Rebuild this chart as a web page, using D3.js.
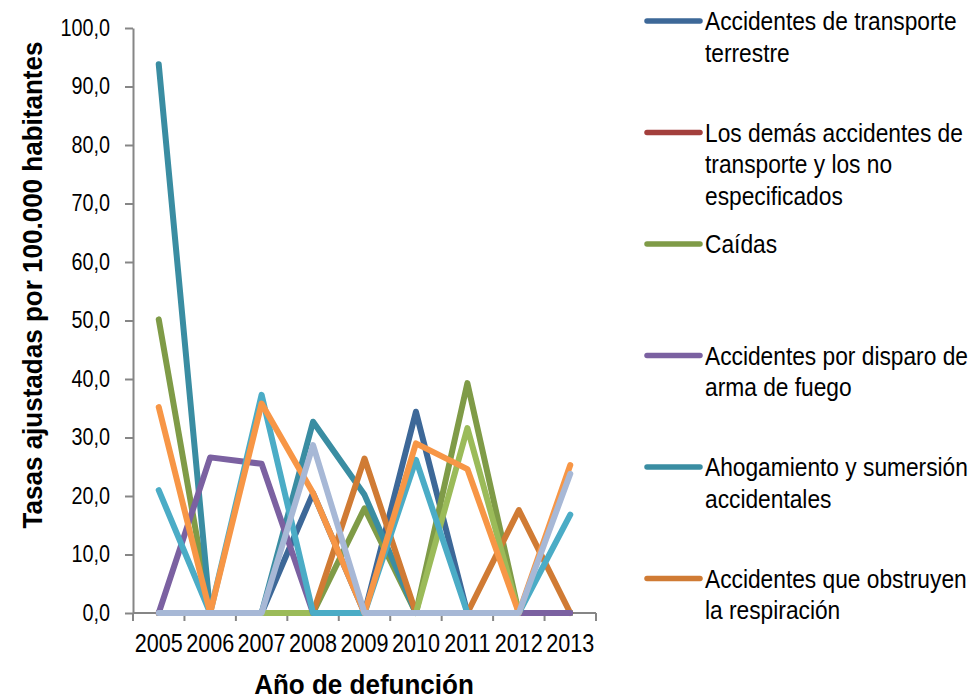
<!DOCTYPE html>
<html>
<head>
<meta charset="utf-8">
<script src="https://cdn.jsdelivr.net/npm/d3@7"></script>
<style>
  html, body { margin: 0; padding: 0; background: #fff; }
  svg { display: block; }
  text { font-family: "Liberation Sans", Arial, sans-serif; fill: #000; }
</style>
</head>
<body>
<svg id="chart" width="973" height="700"></svg>
<script>
// Años de defunción (categorías del eje X)
const years = ["2005", "2006", "2007", "2008", "2009", "2010", "2011", "2012", "2013"];

// Tasas ajustadas por 100.000 habitantes, por causa
const transporteTerrestre = [0, 0, 0, 20.5, 0, 34.4, 0, 0, 0];
const demasTransporte     = [0, 0, 0, 0, 0, 0, 0, 0, 0];
const caidas              = [50.2, 0, 0, 0, 17.9, 0, 39.3, 0, 0];
const disparoArma         = [0, 26.6, 25.5, 0, 0, 0, 0, 0, 0];
const ahogamiento         = [93.8, 0, 0, 32.7, 20.2, 0, 0, 0, 0];
const obstruyenResp       = [0, 0, 0, 0, 26.4, 0, 0, 17.6, 0];
const exposicionFuego     = [21.0, 0, 37.3, 0, 0, 26.2, 0, 0, 16.8];
const envenenamiento      = [35.2, 0, 35.8, 20.5, 0, 29.0, 24.6, 0, 25.3];
const fuerzasNaturaleza   = [0, 0, 0, 0, 0, 0, 31.6, 0, 0];
const otrosAccidentes     = [0, 0, 0, 28.7, 0, 0, 0, 0, 23.8];

// Textos de la leyenda (una entrada por línea de texto)
const legendLabels = [
  ["Accidentes de transporte", "terrestre"],
  ["Los demás accidentes de", "transporte y los no", "especificados"],
  ["Caídas"],
  ["Accidentes por disparo de", "arma de fuego"],
  ["Ahogamiento y sumersión", "accidentales"],
  ["Accidentes que obstruyen", "la respiración"]
];

// Marcas del eje Y
const yTicks = [0, 10, 20, 30, 40, 50, 60, 70, 80, 90, 100];

// Series en orden de dibujo (las últimas quedan encima)
const series = [
  { key: "transporte", values: transporteTerrestre, color: "#3d6898", legend: 0 },
  { key: "demas",      values: demasTransporte,     color: "#a33f3c", legend: 1 },
  { key: "caidas",     values: caidas,              color: "#7f9b47", legend: 2 },
  { key: "ahogamiento",values: ahogamiento,         color: "#3a8da2", legend: 4 },
  { key: "obstruyen",  values: obstruyenResp,       color: "#d07b34", legend: 5 },
  { key: "naturaleza", values: fuerzasNaturaleza,   color: "#9bbb59", legend: -1 },
  { key: "disparo",    values: disparoArma,         color: "#7b61a1", legend: 3 },
  { key: "fuego",      values: exposicionFuego,     color: "#4bacc6", legend: -1 },
  { key: "veneno",     values: envenenamiento,      color: "#f79646", legend: -1 },
  { key: "otros",      values: otrosAccidentes,     color: "#a7b8d6", legend: -1 }
];

const svg = d3.select("#chart");
const axisColor = "#868686";

const x = d3.scaleBand().domain(years).range([133, 596]);
const y = d3.scaleLinear().domain([0, 100]).range([613, 28]);

const fmt = v => d3.format(".1f")(v).replace(".", ",");

// Eje Y (texto condensado horizontalmente)
const yScaleX = 0.86;
const yAxis = svg.append("g")
  .attr("transform", "translate(133,0)")
  .call(d3.axisLeft(y).tickValues(yTicks).tickSize(8).tickSizeOuter(0).tickPadding(15).tickFormat(fmt));
yAxis.select(".domain").attr("stroke", axisColor).attr("stroke-width", 2);
yAxis.selectAll(".tick line").attr("stroke", axisColor).attr("stroke-width", 2);
yAxis.selectAll(".tick text")
  .attr("font-size", 23).attr("fill", "#000")
  .attr("font-family", null)
  .attr("x", -23 / yScaleX)
  .attr("transform", `scale(${yScaleX},1)`);

// Eje X: etiquetas centradas en cada año
const xAxis = svg.append("g")
  .attr("transform", "translate(0,613)")
  .call(d3.axisBottom(x).tickSize(0).tickPadding(21));
xAxis.select(".domain").remove();
xAxis.selectAll(".tick text")
  .attr("font-size", 26).attr("fill", "#000")
  .attr("font-family", null)
  .attr("transform", "scale(0.83,1)");

// Línea base y marcas entre categorías
svg.append("line")
  .attr("x1", x.range()[0]).attr("x2", x.range()[1])
  .attr("y1", y(0)).attr("y2", y(0))
  .attr("stroke", axisColor).attr("stroke-width", 2);
const bounds = years.map(d => x(d)).concat([x.range()[1]]);
svg.append("g").selectAll("line").data(bounds).join("line")
  .attr("x1", d => d).attr("x2", d => d)
  .attr("y1", y(0)).attr("y2", y(0) + 8)
  .attr("stroke", axisColor).attr("stroke-width", 2);

// Líneas de las series
const line = d3.line()
  .x((d, i) => x(years[i]) + x.bandwidth() / 2)
  .y(d => y(d));

svg.append("g").selectAll("path").data(series).join("path")
  .attr("d", d => line(d.values))
  .attr("fill", "none")
  .attr("stroke", d => d.color)
  .attr("stroke-width", 6)
  .attr("stroke-linejoin", "round")
  .attr("stroke-linecap", "round");

// Títulos de ejes
svg.append("text")
  .attr("transform", "translate(42,285) rotate(-90) scale(0.93,1)")
  .attr("text-anchor", "middle")
  .attr("font-size", 28)
  .attr("font-weight", "bold")
  .text("Tasas ajustadas por 100.000 habitantes");

svg.append("text")
  .attr("transform", "translate(364,694) scale(0.93,1)")
  .attr("text-anchor", "middle")
  .attr("font-size", 28)
  .attr("font-weight", "bold")
  .text("Año de defunción");

// Leyenda
const legendItems = series.filter(s => s.legend >= 0).sort((a, b) => a.legend - b.legend);
const legend = svg.append("g");
legendItems.forEach((s, i) => {
  const cy = 21 + i * 111.5;
  legend.append("line")
    .attr("x1", 647).attr("x2", 700)
    .attr("y1", cy).attr("y2", cy)
    .attr("stroke", s.color).attr("stroke-width", 5.5)
    .attr("stroke-linecap", "round");
  const t = legend.append("text")
    .attr("transform", `translate(705,${cy + 9}) scale(0.91,1)`)
    .attr("font-size", 25);
  legendLabels[s.legend].forEach((ln, j) => {
    t.append("tspan").attr("x", 0).attr("dy", j === 0 ? 0 : 32).text(ln);
  });
});
</script>
</body>
</html>
